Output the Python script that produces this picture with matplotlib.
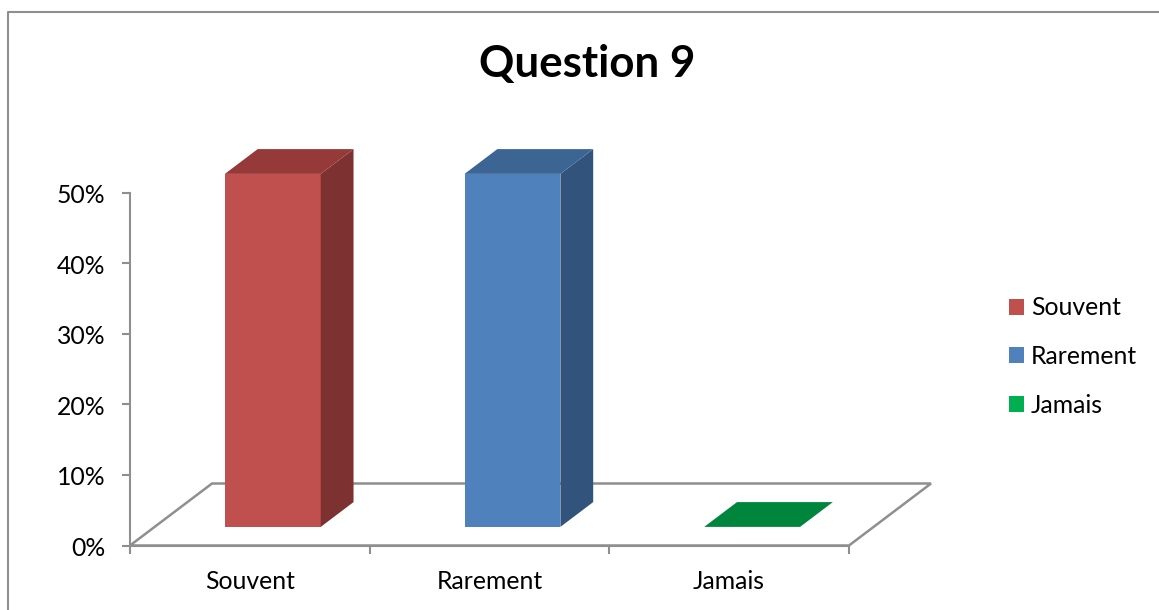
import matplotlib.pyplot as plt
from matplotlib.patches import Patch, Polygon, Rectangle
from matplotlib.ticker import PercentFormatter
from matplotlib.transforms import ScaledTranslation

plt.rcParams['font.family'] = ['Lato', 'DejaVu Sans']

categories = ['Souvent', 'Rarement', 'Jamais']
values = [50, 50, 0]
y_ticks = [0, 10, 20, 30, 40, 50]
front_colors = ['#c0504d', '#4f81bd', '#00b050']
top_colors = ['#953a38', '#3d6594', '#00853c']
side_colors = ['#7d3130', '#31537c', '#006e32']
GREY = '#8f8f8f'

W, H = 1159, 610
fig = plt.figure(figsize=(W / 100, H / 100), dpi=100)
ax = fig.add_axes([130 / W, 1 - 545.5 / H, 719 / W, 353 / H])
ax.set_xlim(0, 3)
ax.set_ylim(0, 50)

# fake 3d: depth of the floor in data units
depth_x = 82 / (719 / 3)
depth_y = 62 / (353 / 50)
front = 0.28
back = 0.68
bar_w = 0.4

floor = [(0, 0), (3, 0), (3 + depth_x, depth_y), (depth_x, depth_y)]
ax.add_patch(Polygon(floor, closed=True, fill=False, edgecolor=GREY, lw=1.8, clip_on=False, zorder=1))

for i, v in enumerate(values):
    x0 = i + 0.5 - bar_w / 2 + front * depth_x
    x1 = x0 + bar_w
    y0 = 0.3 * depth_y
    y1 = y0 + v
    dx = (back - front) * depth_x
    dy = (back - front) * depth_y
    if v > 0:
        ax.add_patch(Rectangle((x0, y0), bar_w, v, fc=front_colors[i], ec='none', clip_on=False, zorder=3))
        ax.add_patch(Polygon([(x1, y0), (x1 + dx, y0 + dy), (x1 + dx, y1 + dy), (x1, y1)],
                             fc=side_colors[i], ec='none', clip_on=False, zorder=3))
    ax.add_patch(Polygon([(x0, y1), (x1, y1), (x1 + dx, y1 + dy), (x0 + dx, y1 + dy)],
                         fc=top_colors[i], ec='none', clip_on=False, zorder=3))

ax.patch.set_visible(False)
for s in ['top', 'right']:
    ax.spines[s].set_visible(False)
for s in ['left', 'bottom']:
    ax.spines[s].set_color(GREY)
    ax.spines[s].set_linewidth(1.5)
    ax.spines[s].set_zorder(2)

ax.set_yticks(y_ticks)
ax.yaxis.set_major_formatter(PercentFormatter(decimals=0))
ax.set_xticks([0, 1, 2, 3])
ax.set_xticklabels([])
ax.set_xticks([0.5, 1.5, 2.5], categories, minor=True)
ax.tick_params(axis='both', which='major', color=GREY, width=1.5, length=6, labelsize=17.8, labelcolor='black')
ax.tick_params(axis='x', which='minor', length=0, pad=17.5, labelsize=17.8, labelcolor='black')
ax.tick_params(axis='y', which='major', pad=11.5)
for lab in ax.get_yticklabels():
    lab.set_transform(lab.get_transform() + ScaledTranslation(0, -0.7 / 72, fig.dpi_scale_trans))

fig.text(587 / W, 1 - 64 / H, 'Question 9', ha='center', va='center', fontsize=31.6, fontweight='bold', color='black')

handles = [Patch(fc=c, ec='none', label=n) for c, n in zip(front_colors, categories)]
fig.legend(handles=handles, loc='center left', bbox_to_anchor=(1009 / W, 1 - 356.5 / H), frameon=False, fontsize=17.8,
           handlelength=0.61, handleheight=0.61, handletextpad=0.28, labelspacing=1.04, borderpad=0, borderaxespad=0)

# chart frame, cut off by the right and bottom of the image
fig.add_artist(plt.Line2D([8 / W, 8 / W, 1], [0, 1 - 11.5 / H, 1 - 11.5 / H], color=GREY, lw=1.5))

fig.savefig('out.png', dpi=100)
